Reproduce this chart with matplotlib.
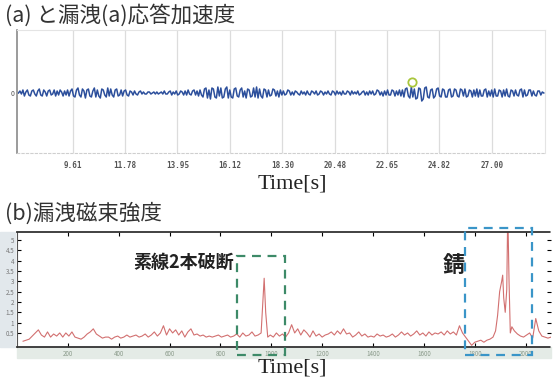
import numpy as np
import matplotlib.pyplot as plt
from matplotlib.patches import Rectangle

plt.rcParams['font.family'] = ['Noto Sans CJK JP', 'DejaVu Sans']

# (a) response acceleration (centre line = 0)
accel = [
    0, 2, -1, 3, -3, 1, 3, -2, -3, 2, 3, -1, -3, 2, 4, -2, -3, 3, 1, -3, 2, 3, -2, -1, 3, -3, 2, -2, 3, 1, -3, 2, -2, 3, -3, 2,
    4, -3, -4, 3, 5, -2, -4, 4, 2, -5, 3, 4, -3, -4, 2, 5, -4, 3, -3, -5, 4, 3, -2, -4, 5, -3, 4, -2, -4, 3, 4, -3, -2, 3,
    -3, 2, 3, -2, -3, 2, 1, -2, 2, -1, -2, 1, 2, -1, 1, -1, -1, 1, 1, -1, 0, 1, -1, 1, -1, 0, 1, -1, 2, -1, -1, 1, 2, -2,
    1, -1, 2, -2, -1, 2, 1, -2, 2, -2, 3, -1, -2, 2, 3, -2, 2, -3, 3, -2,
    -4, 4, 5, -5, 3, -6, 5, 4, -4, -5, 6, -3, 5, -5, -4, 4, 6, -5, 3, -4, -5, 4, 5, -3, -4, 3, 5, -4, 2, -5, 4, 3, -4, -3,
    5, -4, 6, -5, 4, -3, -5, 4, 3, -4, 3, -3, -2, 4, 3, -3, 2, -4, 3, -2,
    2, -2, -1, 3, 2, -2, 1, -2, 2, 1, -1, -2, 2, -1, 1, -2, 2, -1, -2, 2, 1, -1, 2, -2, -1, 2, 1, -2, 1, -1, 2, -1, -2, 2,
    1, -2, 2, -1, 1, -2, 2, -1, -1, 2, 1, -2, 2, -1, 1, -1, 2, -2, -1, 1, 2, -2, 1, -2, 2, -1, 2, -2, -1, 3, 2, -2, 1, -3,
    2, -2, 3, -2, -2, 3, 2, -3, 2, -2, 3, -3,
    3, -4, 4, 5, -3, -5, 6, -4, 4, -6, -5, 5, 4, -8, -6, 5, 6, -4, -5, 3, 4, -5, -3, 4, 5, -3, -4, 4, 3, -4,
    -4, 3, 4, -4, -3, 4, 3, -3, -4, 4, 3, -3, 4, -4, -3, 3, 2, -4, 3, -3, 4, -4, 3, -3, -3, 3, 4, -4, 2, -3, 3, -4, 4, -3,
    -3, 3, 2, -4, 3, -3, 4, -3, -4, 3, 2, -3, 3, -2, -3, 3, 4, -4, 3, -3, -2, 3, 3, -3, 2, -2, -3, 2, 2, -2, 1, 0,
]
accel_ticks = [9.61, 11.78, 13.95, 16.12, 18.30, 20.48, 22.65, 24.82, 27.00]
accel_tick_labels = ['9.61', '11.78', '13.95', '16.12', '18.30', '20.48', '22.65', '24.82', '27.00']
marker_t, marker_v = 23.68, 11

# (b) leakage flux intensity
mag_base1 = [
    0.1, 0.15, 0.2, 0.35, 0.5, 0.65, 0.4, 0.3, 0.55, 0.3,
    0.45, 0.35, 0.5, 0.3, 0.5, 0.35, 0.55, 0.3, 0.25, 0.2,
    0.3, 0.45, 0.55, 0.7, 0.45, 0.35, 0.25, 0.3, 0.3, 0.2,
    0.3, 0.35, 0.25, 0.3, 0.4, 0.3, 0.35, 0.4, 0.3, 0.35,
    0.45, 0.3, 0.4, 0.55, 0.35, 0.5, 0.85, 0.4, 0.7, 0.5,
    0.65, 0.4, 0.6, 0.3, 0.55, 0.7, 0.4, 0.45, 0.35, 0.4,
    0.3, 0.35, 0.3, 0.35, 0.4, 0.3, 0.35, 0.4, 0.3, 0.35,
    0.45, 0.3, 0.5, 0.35, 0.4, 0.55, 0.35, 0.4, 0.5,
]
peak1_x = [966, 972, 978, 986]
peak1_y = [1.8, 3.15, 1.5, 0.3]
mag_base2 = [
    0.4, 0.3, 0.5, 0.35, 0.45, 0.3, 0.5, 0.9, 0.5, 0.7,
    0.4, 0.65, 0.5, 0.3, 0.6, 0.35, 0.45, 0.3, 0.4, 0.45,
    0.55, 0.4, 0.6, 0.45, 0.7, 0.45, 0.5, 0.3, 0.4, 0.55,
    0.35, 0.45, 0.3, 0.35, 0.3, 0.45, 0.35, 0.4, 0.3, 0.35,
    0.45, 0.3, 0.4, 0.55, 0.4, 0.5, 0.35, 0.45, 0.6, 0.4,
    0.5, 0.35, 0.55, 0.4, 0.5, 0.45, 0.55, 0.4, 0.6, 0.45,
    0.55, 0.4, 0.85, 0.5, 0.3, 0.1, -0.1, 0.05, 0.1, 0.15,
    0.05, 0.15, 0.2, 0.3,
]
peak2_x = [1882, 1890, 1898, 1906, 1910, 1914, 1920, 1926, 1930, 1935, 1940, 1946]
peak2_y = [0.6, 1.35, 2.5, 3.0, 3.3, 2.2, 1.5, 2.6, 6.5, 3.0, 0.5, 0.8]
mag_base3 = [0.6, 0.45, 0.35, 0.3, 0.4, 0.5, 0.25, 1.2, 0.6, 0.35, 0.3, 0.25, 0.3]

mag_yticks = [0.5, 1, 1.5, 2, 2.5, 3, 3.5, 4, 4.5, 5]
mag_xticks = [200, 400, 600, 800, 1000, 1200, 1400, 1600, 1800, 2000]

break_box = (865, 1053)   # 素線2本破断 region
rust_box = (1761, 2024)   # 錆 region

mag_x = np.concatenate([
    24 + 12 * np.arange(len(mag_base1)), peak1_x,
    996 + 12 * np.arange(len(mag_base2)), peak2_x,
    1956 + 12 * np.arange(len(mag_base3)),
])
mag_y = np.concatenate([mag_base1, peak1_y, mag_base2, peak2_y, mag_base3])

W, H = 553, 381
fig = plt.figure(figsize=(W / 100, H / 100), dpi=100)


def rect(x0, y0, x1, y1):
    return [x0 / W, 1 - y1 / H, (x1 - x0) / W, (y1 - y0) / H]


# ---- panel (a)
ax1 = fig.add_axes(rect(17, 30, 545, 153))
t = np.linspace(7.35, 29.15, len(accel))
ax1.plot(t, accel, color='#2c4f9c', lw=1.1)
ax1.plot(marker_t, marker_v, 'o', mfc='none', mec='#a9c63c', ms=6, mew=1.3)
ax1.set_xlim(7.29, 29.2)
ax1.set_ylim(-60, 63)
ax1.set_xticks(accel_ticks)
ax1.set_xticklabels(accel_tick_labels, family='DejaVu Sans Mono', fontsize=5.5,
                    color='#555555', fontweight='bold')
ax1.set_yticks([0])
ax1.set_yticklabels(['0'], fontsize=5, color='#555555')
ax1.tick_params(length=0, pad=6)
ax1.tick_params(axis='y', pad=2)
ax1.grid(axis='x', color='#dcdcdc', lw=0.9)
for s in ['top', 'right']:
    ax1.spines[s].set_color('#e4e4e4')
ax1.spines['left'].set_color('#8a8a8a')
ax1.spines['left'].set_linewidth(1.2)
ax1.spines['bottom'].set_color('#cfcfcf')
ax1.spines['bottom'].set_linestyle((0, (2, 2)))

fig.text(5 / W, 1 - 15 / H, '(a) と漏洩(a)応答加速度', fontsize=15.5,
         color='#333333', va='center', ha='left')
fig.text(292 / W, 1 - 184 / H, 'Time[s]', family='Liberation Serif',
         fontsize=16, color='#222222', ha='center', va='center')

# ---- panel (b)
fig.patches.append(Rectangle((0, 1 - 347 / H), 15 / W, 115 / H, transform=fig.transFigure,
                             color='#e2e8ec', zorder=-1))
fig.patches.append(Rectangle((17 / W, 1 - 358 / H), 534 / W, 11 / H, transform=fig.transFigure,
                             color='#e4ebe6', zorder=-1))

ax2 = fig.add_axes(rect(17, 232, 551, 347))
ax2.plot(mag_x, mag_y, color='#d27070', lw=0.8)
ax2.set_xlim(0, 2100)
ax2.set_ylim(-0.18, 5.39)
ax2.set_yticks(mag_yticks)
ax2.set_yticklabels([f'{v:g}' for v in mag_yticks], fontsize=4.5, color='#777777')
ax2.set_xticks(mag_xticks)
ax2.set_xticklabels([str(v) for v in mag_xticks], fontsize=4.5, color='#8a9a8a')
ax2.tick_params(direction='in', length=3, width=0.8, top=True, right=True, pad=2)
for s in ['top', 'bottom']:
    ax2.spines[s].set_linestyle((0, (1, 1)))
    ax2.spines[s].set_linewidth(1.3)
    ax2.spines[s].set_color('#333333')
ax2.spines['left'].set_color('#555555')
ax2.spines['right'].set_visible(False)

for (x0, x1), y1, col in [(break_box, 4.25, '#3d8a68'), (rust_box, 5.6, '#3a95c8')]:
    ax2.add_patch(Rectangle((x0, -0.58), x1 - x0, y1 + 0.58, fill=False, ec=col,
                            lw=1.6, ls=(0, (4, 3)), clip_on=False, zorder=5))

ax2.text(855, 3.9, '素線2本破断', fontsize=13, fontweight='bold', color='#222222',
         ha='right', va='center')
ax2.text(1717, 3.77, '錆', fontsize=16, fontweight='bold', color='#222222',
         ha='center', va='center')

fig.text(5 / W, 1 - 214 / H, '(b)漏洩磁束強度', fontsize=15.5,
         color='#333333', va='center', ha='left')
fig.text(292 / W, 1 - 368 / H, 'Time[s]', family='Liberation Serif',
         fontsize=16, color='#222222', ha='center', va='center')

fig.savefig('out.png', dpi=100)
